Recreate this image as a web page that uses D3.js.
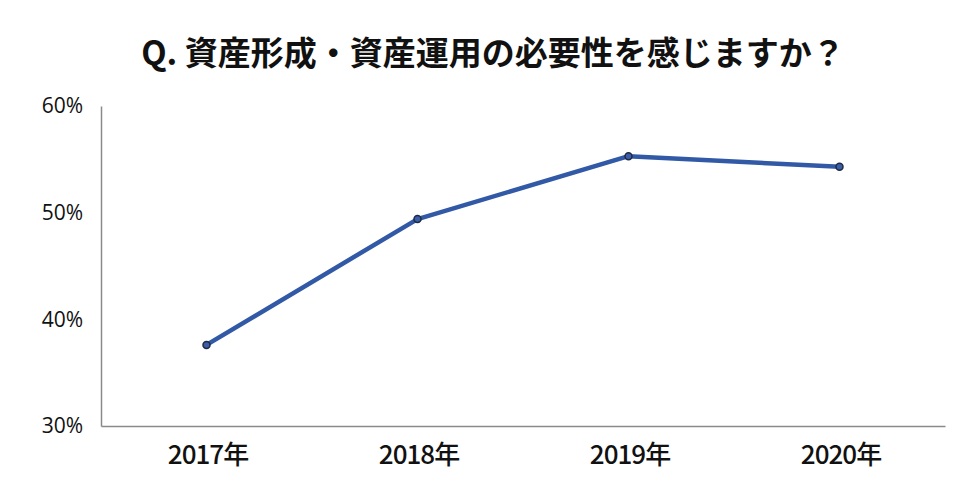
<!DOCTYPE html>
<html><head><meta charset="utf-8">
<script src="https://cdn.jsdelivr.net/npm/d3@7"></script>
<style>body{margin:0;background:#fff;}svg{display:block;}</style>
</head><body>
<script>
const title = "Q. 資産形成・資産運用の必要性を感じますか？";
const categories = ["2017年", "2018年", "2019年", "2020年"];
const values = [37.6, 49.4, 55.3, 54.3];
const yTicks = [30, 40, 50, 60];

const W = 973, H = 496;
const svg = d3.select("body").append("svg").attr("width", W).attr("height", H);
const m = {left: 101, right: 28, top: 106, bottom: 70};

const x = d3.scalePoint().domain(categories).range([m.left, W - m.right]).padding(0.5);
const y = d3.scaleLinear().domain([30, 60]).range([H - m.bottom, m.top]);

svg.append("text").attr("x", 493).attr("y", 65).attr("text-anchor", "middle")
  .attr("font-family", "'Noto Sans CJK JP', sans-serif").attr("font-weight", 700)
  .attr("font-size", 33).attr("fill", "#111").text(title);

const yAxis = svg.append("g").attr("transform", `translate(${m.left},0)`)
  .call(d3.axisLeft(y).tickValues(yTicks).tickSize(0).tickPadding(18).tickFormat(d => d + "%"));
yAxis.select(".domain").attr("stroke", "#8a8a8a").attr("stroke-width", 1.5);
yAxis.selectAll("text").attr("font-family", "'Open Sans', 'Noto Sans', sans-serif")
  .attr("font-size", 21).attr("fill", "#111");

const xAxis = svg.append("g").attr("transform", `translate(0,${H - m.bottom})`)
  .call(d3.axisBottom(x).tickSize(0).tickPadding(20));
xAxis.select(".domain").attr("stroke", "#8a8a8a").attr("stroke-width", 1.5);
xAxis.selectAll(".tick text").attr("font-family", "'Noto Sans CJK JP', sans-serif")
  .attr("font-weight", 500).attr("font-size", 26).attr("fill", "#111")
  .attr("x", 1).style("letter-spacing", "-1px");

const line = d3.line().x((d, i) => x(categories[i])).y(d => y(d));
svg.append("path").datum(values).attr("d", line).attr("fill", "none")
  .attr("stroke", "#3159a6").attr("stroke-width", 4.5).attr("stroke-linejoin", "round");

svg.selectAll("circle.pt").data(values).join("circle").attr("class", "pt")
  .attr("cx", (d, i) => x(categories[i])).attr("cy", d => y(d)).attr("r", 3.5)
  .attr("fill", "#3a5fa8").attr("stroke", "#1e2a44").attr("stroke-width", 1.5);
</script>
</body></html>
